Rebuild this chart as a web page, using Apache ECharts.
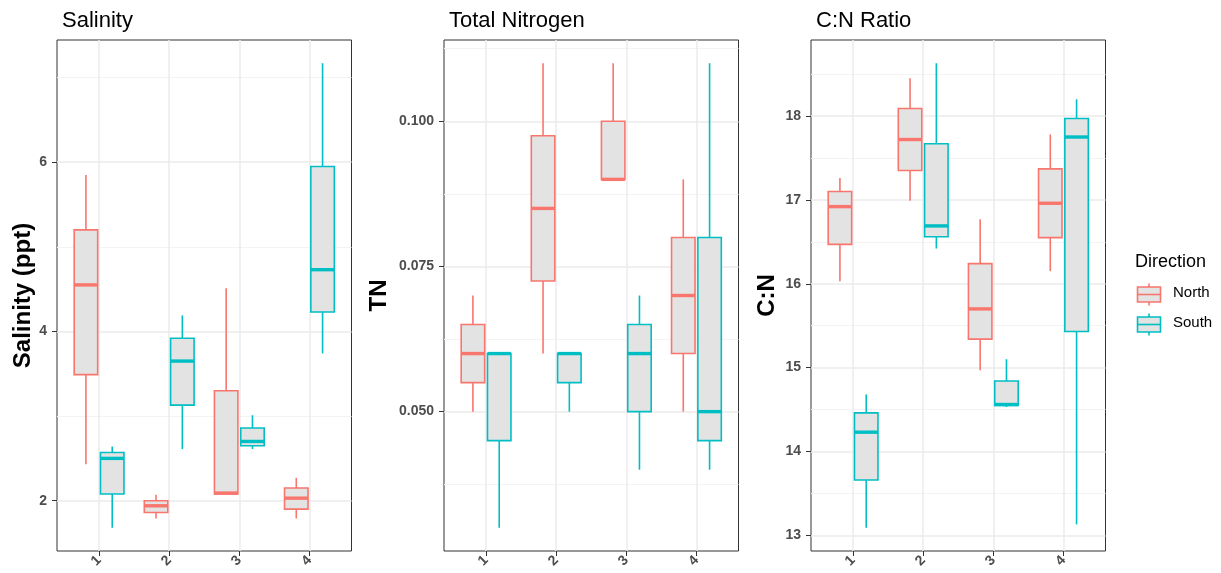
<!DOCTYPE html>
<html><head><meta charset="utf-8">
<script src="https://cdn.jsdelivr.net/npm/echarts@6/dist/echarts.min.js"></script>
<style>html,body{margin:0;padding:0;background:#fff}#c{width:1221px;height:573px}</style>
</head><body><div id="c"></div>
<script>
// ---- data ----
const categories = ['1', '2', '3', '4'];
const groups = ['North', 'South'];
const panelTitles = ['Salinity', 'Total Nitrogen', 'C:N Ratio'];
const yTitles = ['Salinity (ppt)', 'TN', 'C:N'];
// each box: [lower whisker, Q1, median, Q3, upper whisker]
const salinityNorth = [[2.43, 3.49, 4.55, 5.20, 5.85], [1.79, 1.86, 1.94, 2.00, 2.07], [2.08, 2.08, 2.09, 3.30, 4.51], [1.79, 1.90, 2.03, 2.15, 2.27]];
const salinitySouth = [[1.68, 2.08, 2.50, 2.57, 2.64], [2.61, 3.13, 3.65, 3.92, 4.19], [2.61, 2.65, 2.70, 2.86, 3.01], [3.74, 4.23, 4.73, 5.95, 7.17]];
const tnNorth = [[0.050, 0.055, 0.060, 0.065, 0.070], [0.060, 0.0725, 0.085, 0.0975, 0.110], [0.090, 0.090, 0.090, 0.100, 0.110], [0.050, 0.060, 0.070, 0.080, 0.090]];
const tnSouth = [[0.030, 0.045, 0.060, 0.060, 0.060], [0.050, 0.055, 0.060, 0.060, 0.060], [0.040, 0.050, 0.060, 0.065, 0.070], [0.040, 0.045, 0.050, 0.080, 0.110]];
const cnNorth = [[16.03, 16.47, 16.92, 17.10, 17.26], [16.99, 17.35, 17.72, 18.09, 18.45], [14.97, 15.34, 15.70, 16.24, 16.77], [16.15, 16.55, 16.96, 17.37, 17.78]];
const cnSouth = [[13.09, 13.66, 14.23, 14.46, 14.68], [16.42, 16.56, 16.69, 17.67, 18.63], [14.53, 14.55, 14.56, 14.84, 15.10], [13.13, 15.43, 17.75, 17.97, 18.20]];
const salinityTicks = [2, 4, 6];
const salinityMinor = [3, 5, 7];
const tnTicks = [0.050, 0.075, 0.100];
const tnMinor = [0.0375, 0.0625, 0.0875, 0.1125];
const cnTicks = [13, 14, 15, 16, 17, 18];
const cnMinor = [13.5, 14.5, 15.5, 16.5, 17.5, 18.5];

// ---- styling / layout ----
const FONT = "'Liberation Sans', Arial, sans-serif";
const COLORS = { North: '#F8766D', South: '#00BFC4' };
const FILL = '#e3e3e3';
const DODGE = 0.1875, BOX_W = 0.335;
const panels = [
  { north: salinityNorth, south: salinitySouth, ticks: salinityTicks, minor: salinityMinor, fmt: v => String(v), nameGap: 22, left: 57 },
  { north: tnNorth, south: tnSouth, ticks: tnTicks, minor: tnMinor, fmt: v => v.toFixed(3), nameGap: 53, left: 444 },
  { north: cnNorth, south: cnSouth, ticks: cnTicks, minor: cnMinor, fmt: v => String(v), nameGap: 32, left: 811 }
];
const PW = 294.5, TOP = 40, PH = 511;

function extentOf(p) {
  let lo = Infinity, hi = -Infinity;
  [p.north, p.south].forEach(arr => arr.forEach(s => { lo = Math.min(lo, s[0]); hi = Math.max(hi, s[4]); }));
  const pad = (hi - lo) * 0.05;
  return [lo - pad, hi + pad];
}

function makeRender(color) {
  return function (params, api) {
    const x = api.value(0);
    const lo = api.coord([x, api.value(1)]);
    const q1 = api.coord([x, api.value(2)]);
    const md = api.coord([x, api.value(3)]);
    const q3 = api.coord([x, api.value(4)]);
    const hi = api.coord([x, api.value(5)]);
    const w = api.size([BOX_W, 0])[0];
    const left = lo[0] - w / 2;
    const ls = { stroke: color, lineWidth: 1.6 };
    return {
      type: 'group', children: [
        { type: 'line', shape: { x1: lo[0], y1: hi[1], x2: lo[0], y2: q3[1] }, style: ls },
        { type: 'line', shape: { x1: lo[0], y1: q1[1], x2: lo[0], y2: lo[1] }, style: ls },
        { type: 'rect', shape: { x: left, y: q3[1], width: w, height: q1[1] - q3[1] }, style: { fill: FILL, stroke: color, lineWidth: 1.6 } },
        { type: 'line', shape: { x1: left, y1: md[1], x2: left + w, y2: md[1] }, style: { stroke: color, lineWidth: 3.4 } }
      ]
    };
  };
}

const grid = [], xAxis = [], yAxis = [], series = [], title = [];
panels.forEach((p, i) => {
  const [mn, mx] = extentOf(p);
  grid.push({ left: p.left, top: TOP, width: PW, height: PH, show: true, borderColor: '#333', borderWidth: 1, backgroundColor: '#fff', containLabel: false });
  title.push({ text: panelTitles[i], left: p.left, top: 5, textStyle: { fontFamily: FONT, fontSize: 22, fontWeight: 'normal', color: '#000' } });
  xAxis.push({
    type: 'value', gridIndex: i, min: 0.4, max: categories.length + 0.6,
    axisLine: { show: false },
    axisTick: { show: true, length: 5, lineStyle: { color: '#333', width: 1 }, customValues: categories.map((c, k) => k + 1) },
    axisLabel: { show: true, rotate: 45, margin: 7, fontFamily: FONT, fontSize: 14, fontWeight: 'bold', color: '#4d4d4d',
      padding: [0, 0, 0, 0],
      customValues: categories.map((c, k) => k + 1), formatter: v => categories[Math.round(v) - 1] },
    splitLine: { show: true, lineStyle: { color: '#ebebeb', width: 1.5 } }
  });
  yAxis.push({
    type: 'value', gridIndex: i, min: mn, max: mx,
    name: yTitles[i], nameLocation: 'middle', nameRotate: 90, nameGap: p.nameGap,
    nameTextStyle: { fontFamily: FONT, fontSize: 24, fontWeight: 'bold', color: '#000' },
    axisLine: { show: false },
    axisTick: { show: true, length: 5, lineStyle: { color: '#333', width: 1 }, customValues: p.ticks },
    axisLabel: { show: true, margin: 10, fontFamily: FONT, fontSize: 14, fontWeight: 'bold', color: '#4d4d4d', customValues: p.ticks, formatter: p.fmt },
    splitLine: { show: true, lineStyle: { color: '#ebebeb', width: 1.5 } }
  });
});
panels.forEach((p, i) => {
  const [mn, mx] = extentOf(p);
  yAxis.push({
    type: 'value', gridIndex: i, min: mn, max: mx, position: 'left',
    axisLine: { show: false }, axisLabel: { show: false },
    axisTick: { show: false, customValues: p.minor },
    splitLine: { show: true, lineStyle: { color: '#f3f3f3', width: 1 } }
  });
});
panels.forEach((p, i) => {
  groups.forEach((g, gi) => {
    const stats = gi === 0 ? p.north : p.south;
    const off = gi === 0 ? -DODGE : DODGE;
    series.push({
      type: 'custom', name: g, xAxisIndex: i, yAxisIndex: i, z: 5,
      renderItem: makeRender(COLORS[g]),
      encode: { x: 0, y: [1, 2, 3, 4, 5] },
      data: stats.map((s, k) => [k + 1 + off].concat(s)),
      silent: true, animation: false
    });
  });
});

// legend drawn as graphic keys
const legendEls = [
  { type: 'text', left: 1135, top: 253, style: { text: 'Direction', font: '18px ' + FONT, fill: '#000' } }
];
groups.forEach((g, gi) => {
  const cy = 294.5 + gi * 30;
  const c = COLORS[g];
  legendEls.push({ type: 'line', shape: { x1: 1149, y1: cy - 11, x2: 1149, y2: cy - 7.5 }, style: { stroke: c, lineWidth: 1.6 } });
  legendEls.push({ type: 'line', shape: { x1: 1149, y1: cy + 7.5, x2: 1149, y2: cy + 11 }, style: { stroke: c, lineWidth: 1.6 } });
  legendEls.push({ type: 'rect', shape: { x: 1137.5, y: cy - 7.5, width: 23, height: 15 }, style: { fill: FILL, stroke: c, lineWidth: 1.6 } });
  legendEls.push({ type: 'line', shape: { x1: 1137.5, y1: cy, x2: 1160.5, y2: cy }, style: { stroke: c, lineWidth: 1.6 } });
  legendEls.push({ type: 'text', left: 1173, top: cy - 9, style: { text: g, font: '15px ' + FONT, fill: '#000' } });
});

const chart = echarts.init(document.getElementById('c'), null, { renderer: 'canvas' });
chart.setOption({
  backgroundColor: '#fff', animation: false,
  title, grid, xAxis, yAxis, series,
  graphic: legendEls
});
</script></body></html>
